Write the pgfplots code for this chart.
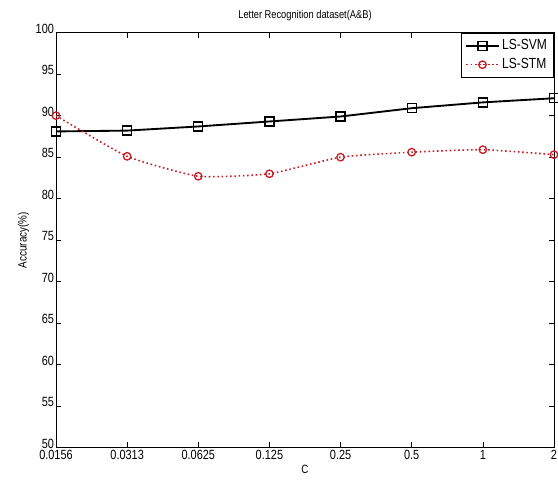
\documentclass[border=0pt]{standalone}
\usepackage{pgfplots}
\pgfplotsset{compat=1.18}
\usepackage{fontspec}
\setmainfont{Liberation Sans}
\newfontfamily\narrowfont[FakeStretch=0.82]{Liberation Sans}
\definecolor{stmred}{RGB}{200,30,40}

\begin{document}
\begin{tikzpicture}
\useasboundingbox (-42pt,-28.5pt) rectangle (376.5pt,335.75pt);
\begin{axis}[
  scale only axis,
  width=373.5pt, height=311.25pt,
  xmin=0, xmax=7, ymin=50, ymax=100,
  xtick={0,...,7},
  xticklabels={0.0156,0.0313,0.0625,0.125,0.25,0.5,1,2},
  ytick={50,55,...,100},
  tick align=inside,
  tick pos=both,
  major tick length=4pt,
  axis line style={line width=0.6pt},
  tick style={line width=0.5pt, black},
  font=\narrowfont\fontsize{9}{10}\selectfont,
  /pgf/number format/assume math mode=true,
  ticklabel style={font=\narrowfont\fontsize{10}{10}\selectfont},
  xticklabel style={yshift=1.5pt},
  yticklabel style={xshift=2pt, yshift=3pt},
  title={Letter Recognition dataset(A\&B)},
  title style={font=\narrowfont\fontsize{8.5}{9}\selectfont, yshift=-1pt},
  xlabel={C},
  ylabel={Accuracy(\%)},
  label style={font=\narrowfont\fontsize{9}{10}\selectfont},
  xlabel style={yshift=3pt},
  ylabel style={yshift=-2pt},
  legend style={at={(1,1)}, anchor=north east, draw=black, line width=0.5pt,
    font=\narrowfont\fontsize{11}{12}\selectfont,
    inner xsep=3pt, inner ysep=3pt, row sep=1pt},
  legend cell align=left,
  legend image code/.code={
    \draw[#1] (0cm,0cm) -- (0.85cm,0cm);
    \draw[#1, mark repeat=2, mark phase=2] plot coordinates {(0cm,0cm) (0.425cm,0cm) (0.85cm,0cm)};
  },
]
\addplot[black, line width=1.4pt, mark=square, mark size=3.4pt,
  mark options={line width=1pt, solid}] coordinates {
  (0,88.1)(1,88.2)(2,88.7)(3,89.3)(4,89.9)(5,90.9)(6,91.6)(7,92.1)
};
\addlegendentry{LS-SVM}

\addplot[stmred, dotted, line width=1.2pt, smooth, tension=0.3, mark=o, mark size=2.8pt,
  mark options={line width=1pt, solid}] coordinates {
  (0,90.0)(1,85.1)(2,82.7)(3,83.0)(4,85.0)(5,85.6)(6,85.9)(7,85.3)
};
\addlegendentry{LS-STM}
\end{axis}
\end{tikzpicture}
\end{document}
